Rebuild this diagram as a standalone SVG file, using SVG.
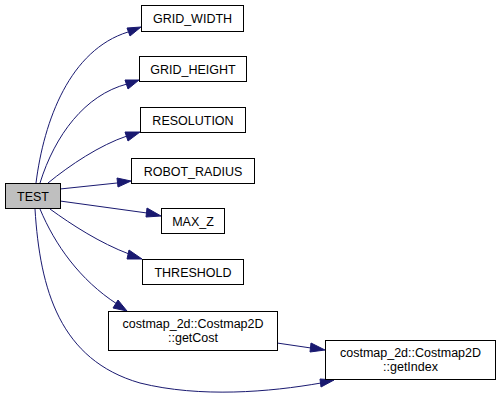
<svg xmlns="http://www.w3.org/2000/svg" width="500" height="400" viewBox="0 0 500 400">
<style>
.box{fill:#ffffff;stroke:#000000;stroke-width:1}
.root{fill:#bfbfbf;stroke:#000000;stroke-width:1}
text{font-family:"Liberation Sans",Arial,sans-serif;font-size:12.5px;text-anchor:middle;fill:#000000}
.edge{fill:none;stroke:#191970;stroke-width:1}
.head{fill:#191970;stroke:#191970;stroke-width:1}
</style>
<rect width="500" height="400" fill="#ffffff"/>
<g id="connectors">
<path class="edge" d="M36,183 C44,120 70,50 128,32"/>
<polygon class="head" points="127,28 141,27 130,36"/>
<path class="edge" d="M40,183 C55,135 85,95 127,84"/>
<polygon class="head" points="125,80 139,80 128,89"/>
<path class="edge" d="M48,183 C70,165 100,145 127,136"/>
<polygon class="head" points="125,132 140,132 128,141"/>
<path class="edge" d="M60,189 L117,183"/>
<polygon class="head" points="117,178 131,181 118,187"/>
<path class="edge" d="M60,201 L147,213"/>
<polygon class="head" points="147,208 161,216 146,217"/>
<path class="edge" d="M50,209 C72,225 100,243 129,254"/>
<polygon class="head" points="129,250 142,259 127,259"/>
<path class="edge" d="M40,209 C55,245 80,280 117,304"/>
<polygon class="head" points="118,300 127,311 113,308"/>
<path class="edge" d="M35,209 C40,290 60,360 140,383 C200,398 270,392 321,383"/>
<polygon class="head" points="320,379 334,380 321,387"/>
<path class="edge" d="M277,343 L311,348"/>
<polygon class="head" points="311,343 325,350 310,352"/>
</g>
<g id="node-test"><rect class="root" x="5.5" y="183.5" width="55" height="25"/><text x="33" y="200.5">TEST</text></g>
<g id="node-grid-width"><rect class="box" x="141.5" y="5.5" width="102" height="26"/><text x="192.5" y="23">GRID_WIDTH</text></g>
<g id="node-grid-height"><rect class="box" x="139.5" y="56.5" width="107" height="25"/><text x="193" y="74">GRID_HEIGHT</text></g>
<g id="node-resolution"><rect class="box" x="140.5" y="107.5" width="105" height="25"/><text x="193" y="124.5">RESOLUTION</text></g>
<g id="node-robot-radius"><rect class="box" x="131.5" y="158.5" width="123" height="25"/><text x="193" y="175.5">ROBOT_RADIUS</text></g>
<g id="node-max-z"><rect class="box" x="161.5" y="208.5" width="63" height="25"/><text x="193" y="225.5">MAX_Z</text></g>
<g id="node-threshold"><rect class="box" x="142.5" y="259.5" width="101" height="25"/><text x="193" y="276.5">THRESHOLD</text></g>
<g id="node-getcost"><rect class="box" x="108.5" y="311.5" width="169" height="39"/><text x="193" y="327.5">costmap_2d::Costmap2D</text><text x="193" y="341.5">::getCost</text></g>
<g id="node-getindex"><rect class="box" x="325.5" y="340.5" width="170" height="39"/><text x="410.5" y="356.5">costmap_2d::Costmap2D</text><text x="410.5" y="370.5">::getIndex</text></g>
</svg>
